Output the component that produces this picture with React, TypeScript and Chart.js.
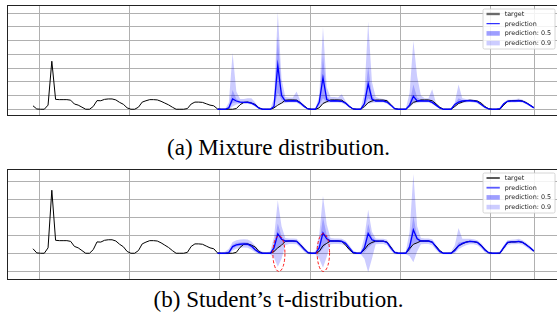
import React, { useEffect, useRef } from "react";
import { Chart, registerables } from "chart.js";

Chart.register(...registerables);

// ---------- data ----------
const PRED_START = 49; // index where the forecast begins
const X_GRID = [1.6, 25.6, 49.6, 73.6, 97.6, 121.6, 133.2];
const Y_GRID_A = [0, 1, 2, 3, 4, 5, 6, 7];
const Y_GRID_B = [-1, 0, 1, 2, 3, 4];

const TARGET = [
  0.25, 0.02, 0, 0, 0.3, 3.5, 0.72, 0.7, 0.7, 0.7, 0.66, 0.38, 0.3, 0.15, 0, 0, 0.2, 0.63, 0.62, 0.72,
  0.75, 0.75, 0.68, 0.5, 0.36, 0.1, 0, 0, 0.15, 0.52, 0.62, 0.7, 0.7, 0.68, 0.58, 0.45, 0.32, 0.15, 0, 0,
  0, 0.05, 0.38, 0.52, 0.52, 0.5, 0.4, 0.3, 0.25, 0.02, 0, 0, 0, 0, 0.05, 0.33, 0.5, 0.52, 0.45, 0.35,
  0.1, 0, 0, 0, 0.1, 0.3, 0.45, 0.66, 0.68, 0.68, 0.66, 0.48, 0.25, 0.03, 0, 0, 0.1, 0.42, 0.55, 0.68,
  0.68, 0.68, 0.66, 0.45, 0.2, 0.02, 0, 0, 0.2, 0.48, 0.6, 0.67, 0.67, 0.67, 0.62, 0.35, 0.05, 0, 0, 0,
  0.25, 0.5, 0.58, 0.68, 0.68, 0.68, 0.62, 0.4, 0.15, 0, 0, 0, 0.2, 0.42, 0.52, 0.62, 0.66, 0.64, 0.6, 0.45,
  0.2, 0.03, 0, 0, 0, 0.3, 0.58, 0.63, 0.63, 0.65, 0.6, 0.48, 0.3, 0.12,
];

// (a) mixture distribution forecast, indices 49..133
const MIX_MEDIAN = [
  0, 0, 0, 0.1, 0.75, 0.6, 0.52, 0.5, 0.5, 0.45, 0.3, 0.08, 0, 0, 0, 0.2, 3.2, 1.0, 0.6, 0.6,
  0.62, 0.6, 0.45, 0.2, 0.02, 0, 0, 0.5, 2.3, 0.7, 0.6, 0.62, 0.6, 0.58, 0.45, 0.2, 0.02, 0, 0, 0.4,
  1.85, 0.75, 0.6, 0.6, 0.6, 0.52, 0.3, 0.05, 0, 0, 0, 0.3, 0.95, 0.6, 0.62, 0.6, 0.6, 0.5, 0.3, 0.1,
  0, 0, 0, 0.35, 0.52, 0.6, 0.62, 0.62, 0.6, 0.55, 0.35, 0.15, 0.02, 0, 0, 0.05, 0.4, 0.58, 0.6, 0.6,
  0.62, 0.58, 0.45, 0.28, 0.1,
];
const MIX_HI90 = [
  0, 0, 0.02, 0.5, 4.1, 1.3, 0.75, 0.75, 0.8, 0.8, 0.5, 0.15, 0.02, 0, 0.02, 0.8, 7.1, 2.2, 0.9, 0.85,
  0.85, 1.3, 0.6, 0.3, 0.05, 0.02, 0.05, 1.0, 6.0, 1.6, 0.9, 0.9, 0.85, 1.1, 0.6, 0.3, 0.05, 0.02, 0.05, 1.2,
  6.4, 2.0, 0.9, 0.8, 0.75, 0.7, 0.4, 0.1, 0.02, 0.02, 0.05, 1.2, 5.0, 2.4, 1.0, 0.8, 0.8, 1.45, 0.45, 0.15,
  0.02, 0.02, 0.05, 0.5, 1.8, 0.8, 0.75, 0.75, 0.7, 0.65, 0.45, 0.2, 0.05, 0.02, 0.02, 0.1, 0.5, 0.7, 0.7, 0.72,
  0.78, 0.7, 0.55, 0.35, 0.15,
];
const MIX_LO90 = [
  0, 0, 0, 0, 0.2, 0.35, 0.4, 0.4, 0.4, 0.35, 0.2, 0.02, 0, 0, 0, 0.05, 0.4, 0.4, 0.45, 0.5,
  0.5, 0.48, 0.3, 0.1, 0, 0, 0, 0.1, 0.4, 0.45, 0.5, 0.5, 0.5, 0.45, 0.3, 0.1, 0, 0, 0, 0.1,
  0.4, 0.45, 0.5, 0.5, 0.5, 0.4, 0.2, 0, 0, 0, 0, 0.1, 0.4, 0.45, 0.5, 0.5, 0.5, 0.38, 0.2, 0.02,
  0, 0, 0, 0.15, 0.35, 0.45, 0.5, 0.52, 0.5, 0.42, 0.25, 0.05, 0, 0, 0, 0, 0.3, 0.48, 0.5, 0.5,
  0.52, 0.48, 0.35, 0.2, 0.05,
];
const MIX_HI50 = [
  0, 0, 0, 0.2, 1.4, 0.75, 0.6, 0.58, 0.6, 0.55, 0.38, 0.1, 0, 0, 0, 0.35, 5.3, 1.4, 0.68, 0.68,
  0.7, 0.72, 0.52, 0.25, 0.03, 0, 0, 0.65, 4.0, 0.95, 0.68, 0.7, 0.68, 0.68, 0.52, 0.25, 0.03, 0, 0, 0.6,
  3.1, 1.0, 0.68, 0.66, 0.66, 0.58, 0.34, 0.06, 0, 0, 0, 0.45, 1.8, 0.85, 0.7, 0.66, 0.66, 0.62, 0.35, 0.12,
  0, 0, 0, 0.4, 0.8, 0.66, 0.68, 0.68, 0.66, 0.6, 0.4, 0.18, 0.02, 0, 0, 0.06, 0.45, 0.63, 0.65, 0.65,
  0.68, 0.63, 0.5, 0.32, 0.12,
];
const MIX_LO50 = [
  0, 0, 0, 0.02, 0.45, 0.5, 0.46, 0.44, 0.44, 0.4, 0.24, 0.05, 0, 0, 0, 0.12, 1.2, 0.7, 0.54, 0.55,
  0.56, 0.54, 0.38, 0.15, 0.01, 0, 0, 0.3, 0.8, 0.55, 0.54, 0.56, 0.55, 0.52, 0.38, 0.15, 0.01, 0, 0, 0.25,
  0.8, 0.6, 0.54, 0.55, 0.54, 0.46, 0.25, 0.03, 0, 0, 0, 0.2, 0.55, 0.52, 0.56, 0.55, 0.55, 0.44, 0.25, 0.07,
  0, 0, 0, 0.28, 0.45, 0.54, 0.56, 0.57, 0.55, 0.5, 0.3, 0.11, 0.01, 0, 0, 0.03, 0.35, 0.53, 0.55, 0.55,
  0.57, 0.53, 0.4, 0.24, 0.08,
];

// (b) Student's t forecast, indices 49..133
const T_MEDIAN = [
  0, 0, 0, 0.03, 0.37, 0.47, 0.5, 0.52, 0.5, 0.4, 0.2, 0.05, 0, 0, 0, 0.3, 1.08, 0.78, 0.68, 0.68,
  0.68, 0.66, 0.45, 0.22, 0.03, 0, 0, 0.3, 1.13, 0.8, 0.68, 0.68, 0.68, 0.66, 0.55, 0.3, 0.05, 0, 0, 0.3,
  1.1, 0.75, 0.67, 0.67, 0.67, 0.6, 0.3, 0.05, 0, 0, 0, 0.35, 1.3, 0.8, 0.68, 0.68, 0.68, 0.62, 0.35, 0.1,
  0, 0, 0, 0.15, 0.42, 0.55, 0.62, 0.66, 0.65, 0.6, 0.42, 0.18, 0.03, 0, 0, 0.02, 0.32, 0.6, 0.63, 0.63,
  0.66, 0.6, 0.46, 0.3, 0.12,
];
const T_HI90 = [
  0.05, 0.05, 0.08, 0.25, 0.62, 0.72, 0.76, 0.78, 0.76, 0.65, 0.42, 0.2, 0.08, 0.05, 0.1, 0.9, 2.95, 1.5, 0.85, 0.82,
  0.82, 0.8, 0.6, 0.35, 0.12, 0.05, 0.1, 1.0, 3.2, 1.6, 0.85, 0.82, 0.82, 0.8, 0.7, 0.45, 0.15, 0.05, 0.1, 0.9,
  2.42, 1.2, 0.82, 0.8, 0.8, 0.75, 0.45, 0.15, 0.05, 0.05, 0.1, 1.2, 4.4, 1.5, 0.85, 0.82, 0.82, 0.78, 0.5, 0.2,
  0.05, 0.05, 0.08, 0.45, 1.4, 0.8, 0.8, 0.8, 0.78, 0.72, 0.55, 0.3, 0.1, 0.05, 0.05, 0.1, 0.45, 0.72, 0.75, 0.76,
  0.8, 0.72, 0.58, 0.4, 0.2,
];
const T_LO90 = [
  -0.05, -0.05, -0.05, -0.05, 0.15, 0.25, 0.3, 0.32, 0.3, 0.2, 0.05, -0.05, -0.05, -0.05, -0.05, -0.25, -0.75, -0.3, 0.45, 0.52,
  0.52, 0.5, 0.3, 0.08, -0.05, -0.05, -0.05, -0.3, -0.8, -0.2, 0.5, 0.52, 0.52, 0.5, 0.4, 0.15, -0.05, -0.05, -0.05, -0.3,
  -1.05, -0.3, 0.5, 0.52, 0.52, 0.45, 0.15, -0.05, -0.05, -0.05, -0.05, -0.15, -0.5, 0.1, 0.5, 0.52, 0.52, 0.45, 0.2, -0.02,
  -0.05, -0.05, -0.05, 0.0, 0.22, 0.35, 0.45, 0.5, 0.5, 0.45, 0.28, 0.05, -0.05, -0.05, -0.05, -0.05, 0.18, 0.45, 0.5, 0.5,
  0.52, 0.47, 0.33, 0.18, 0.04,
];
const T_HI50 = [
  0.01, 0.01, 0.02, 0.12, 0.47, 0.58, 0.6, 0.62, 0.6, 0.5, 0.3, 0.1, 0.02, 0.01, 0.03, 0.5, 1.65, 0.95, 0.74, 0.74,
  0.74, 0.72, 0.52, 0.28, 0.06, 0.01, 0.03, 0.5, 2.0, 1.0, 0.74, 0.74, 0.74, 0.72, 0.62, 0.36, 0.08, 0.01, 0.03, 0.5,
  1.62, 0.9, 0.73, 0.72, 0.72, 0.66, 0.36, 0.08, 0.01, 0.01, 0.03, 0.55, 2.05, 0.95, 0.74, 0.74, 0.74, 0.68, 0.41, 0.14,
  0.01, 0.01, 0.03, 0.25, 0.6, 0.62, 0.68, 0.71, 0.7, 0.65, 0.48, 0.23, 0.05, 0.01, 0.01, 0.05, 0.38, 0.65, 0.68, 0.68,
  0.71, 0.65, 0.51, 0.35, 0.16,
];
const T_LO50 = [
  -0.01, -0.01, -0.01, -0.01, 0.25, 0.37, 0.41, 0.43, 0.41, 0.31, 0.12, 0.0, -0.01, -0.01, -0.01, 0.05, 0.3, 0.5, 0.62, 0.62,
  0.62, 0.6, 0.39, 0.16, 0.0, -0.01, -0.01, 0.05, 0.25, 0.55, 0.62, 0.62, 0.62, 0.6, 0.49, 0.24, 0.01, -0.01, -0.01, 0.05,
  0.3, 0.5, 0.61, 0.62, 0.62, 0.54, 0.24, 0.01, -0.01, -0.01, -0.01, 0.1, 0.55, 0.6, 0.62, 0.62, 0.62, 0.56, 0.29, 0.06,
  -0.01, -0.01, -0.01, 0.08, 0.32, 0.48, 0.56, 0.61, 0.6, 0.55, 0.36, 0.13, 0.01, -0.01, -0.01, -0.01, 0.26, 0.55, 0.58, 0.58,
  0.61, 0.55, 0.41, 0.25, 0.08,
];

// red dashed highlight ellipses on panel (b): centre index, centre value, radii
const ELLIPSES_B = [
  { x: 65.3, y: -0.02, rx: 1.6, ry: 0.99 },
  { x: 77.1, y: 0.04, rx: 1.65, ry: 1.05 },
];

const LEGEND_LABELS = ["target", "prediction", "prediction: 0.5", "prediction: 0.9"];
const CAPTION_A = "(a) Mixture distribution.";
const CAPTION_B = "(b) Student\u2019s t-distribution.";

// ---------- helpers ----------
const toPoints = (arr: number[], start: number) => arr.map((y, k) => ({ x: start + k, y }));

type PanelProps = {
  median: number[];
  lo50: number[];
  hi50: number[];
  lo90: number[];
  hi90: number[];
  yMin: number;
  yMax: number;
  yGrid: number[];
  ellipses: { x: number; y: number; rx: number; ry: number }[];
  legendTarget: { color: string; width: number };
  legendPred: { color: string; width: number };
  top: number;
};

const BAND50 = "rgba(0,0,255,0.22)";
const BAND90 = "rgba(0,0,255,0.2)";

function Panel(p: PanelProps) {
  const ref = useRef<HTMLCanvasElement | null>(null);
  useEffect(() => {
    if (!ref.current) return;
    const overlay = {
      id: "overlay",
      afterDatasetsDraw(chart: any) {
        const ctx = chart.ctx;
        const xs = chart.scales.x;
        const ys = chart.scales.y;
        ctx.save();
        ctx.strokeStyle = "rgba(255,0,0,0.9)";
        ctx.lineWidth = 1;
        ctx.setLineDash([3, 2]);
        for (const e of p.ellipses) {
          const cx = xs.getPixelForValue(e.x);
          const cy = ys.getPixelForValue(e.y);
          const rx = Math.abs(xs.getPixelForValue(e.x + e.rx) - cx);
          const ry = Math.abs(ys.getPixelForValue(e.y + e.ry) - cy);
          ctx.beginPath();
          ctx.ellipse(cx, cy, rx, ry, 0, 0, Math.PI * 2);
          ctx.stroke();
        }
        ctx.restore();
      },
      afterDraw(chart: any) {
        const ctx = chart.ctx;
        const ca = chart.chartArea;
        ctx.save();
        // frame
        ctx.strokeStyle = "#222";
        ctx.lineWidth = 1;
        ctx.strokeRect(Math.round(ca.left) + 0.5, Math.round(ca.top) + 0.5, ca.right - ca.left, ca.bottom - ca.top);
        // legend
        const w = 72;
        const h = 40;
        const bx = ca.right - 4 - w;
        const by = ca.top + 4;
        ctx.beginPath();
        const r = 1.5;
        ctx.moveTo(bx + r, by);
        ctx.lineTo(bx + w - r, by);
        ctx.quadraticCurveTo(bx + w, by, bx + w, by + r);
        ctx.lineTo(bx + w, by + h - r);
        ctx.quadraticCurveTo(bx + w, by + h, bx + w - r, by + h);
        ctx.lineTo(bx + r, by + h);
        ctx.quadraticCurveTo(bx, by + h, bx, by + h - r);
        ctx.lineTo(bx, by + r);
        ctx.quadraticCurveTo(bx, by, bx + r, by);
        ctx.closePath();
        ctx.fillStyle = "rgba(255,255,255,0.85)";
        ctx.fill();
        ctx.strokeStyle = "#cccccc";
        ctx.lineWidth = 0.8;
        ctx.stroke();
        ctx.font = "6.4px 'DejaVu Sans'";
        ctx.textBaseline = "middle";
        ctx.fillStyle = "#222";
        LEGEND_LABELS.forEach((label, k) => {
          const cy = by + 5 + k * 9.7;
          const sx0 = bx + 3.5;
          const sx1 = bx + 16.8;
          if (k === 0 || k === 1) {
            const st = k === 0 ? p.legendTarget : p.legendPred;
            ctx.strokeStyle = st.color;
            ctx.lineWidth = st.width;
            ctx.beginPath();
            ctx.moveTo(sx0, cy);
            ctx.lineTo(sx1, cy);
            ctx.stroke();
          } else {
            ctx.fillStyle = k === 2 ? "rgba(0,0,255,0.38)" : "rgba(0,0,255,0.2)";
            ctx.fillRect(sx0, cy - 2.3, sx1 - sx0, 4.6);
          }
          ctx.fillStyle = "#222";
          ctx.fillText(label, bx + 21.7, cy + 0.3);
        });
        ctx.restore();
      },
    };
    const chart = new Chart(ref.current, {
      type: "line",
      data: {
        datasets: [
          {
            label: "prediction",
            data: toPoints(p.median, PRED_START),
            borderColor: "#0000ff",
            borderWidth: 1.3,
            pointRadius: 0,
            fill: false,
            tension: 0,
            order: 0,
          },
          {
            label: "target",
            data: toPoints(TARGET, 0),
            borderColor: "#000000",
            borderWidth: 1,
            pointRadius: 0,
            fill: false,
            tension: 0,
            order: 1,
          },
          {
            label: "prediction: 0.5",
            data: toPoints(p.hi50, PRED_START),
            borderWidth: 0,
            borderColor: "rgba(0,0,0,0)",
            backgroundColor: BAND50,
            pointRadius: 0,
            fill: "+1",
            tension: 0,
            order: 2,
          },
          {
            label: "lo50",
            data: toPoints(p.lo50, PRED_START),
            borderWidth: 0,
            borderColor: "rgba(0,0,0,0)",
            pointRadius: 0,
            fill: false,
            tension: 0,
            order: 3,
          },
          {
            label: "prediction: 0.9",
            data: toPoints(p.hi90, PRED_START),
            borderWidth: 0,
            borderColor: "rgba(0,0,0,0)",
            backgroundColor: BAND90,
            pointRadius: 0,
            fill: "+1",
            tension: 0,
            order: 4,
          },
          {
            label: "lo90",
            data: toPoints(p.lo90, PRED_START),
            borderWidth: 0,
            borderColor: "rgba(0,0,0,0)",
            pointRadius: 0,
            fill: false,
            tension: 0,
            order: 5,
          },
        ],
      },
      options: {
        animation: false,
        responsive: false,
        devicePixelRatio: 1,
        layout: { padding: { left: 7, top: 5, right: 1, bottom: 5 } },
        plugins: {
          legend: { display: false },
          tooltip: { enabled: false },
          filler: { propagate: false, drawTime: "beforeDatasetsDraw" },
        } as any,
        scales: {
          x: {
            type: "linear",
            min: -6.9,
            max: 139.67,
            afterBuildTicks: (s: any) => {
              s.ticks = X_GRID.map((v) => ({ value: v }));
            },
            ticks: { display: false },
            grid: { color: "#b0b0b0", lineWidth: 1, drawTicks: false },
            border: { display: false },
          },
          y: {
            type: "linear",
            min: p.yMin,
            max: p.yMax,
            afterBuildTicks: (s: any) => {
              s.ticks = p.yGrid.map((v) => ({ value: v }));
            },
            ticks: { display: false },
            grid: { color: "#b0b0b0", lineWidth: 1, drawTicks: false },
            border: { display: false },
          },
        },
      },
      plugins: [overlay],
    } as any);
    return () => chart.destroy();
  }, []);
  return (
    <canvas
      ref={ref}
      width={560}
      height={120}
      style={{ position: "absolute", left: 0, top: p.top, width: 560, height: 120 }}
    />
  );
}

const captionStyle = (top: number): React.CSSProperties => ({
  position: "absolute",
  left: 0,
  width: 557,
  top,
  height: 28,
  lineHeight: "28px",
  textAlign: "center",
  fontFamily: "'Liberation Serif', 'Times New Roman', serif",
  fontSize: 23,
  color: "#000",
  whiteSpace: "nowrap",
});

export default function App() {
  return (
    <div
      style={{
        position: "fixed",
        left: 0,
        top: 0,
        width: 557,
        height: 324,
        overflow: "hidden",
        background: "#fff",
      }}
    >
      <Panel
        median={MIX_MEDIAN}
        lo50={MIX_LO50}
        hi50={MIX_HI50}
        lo90={MIX_LO90}
        hi90={MIX_HI90}
        yMin={-0.42}
        yMax={7.6}
        yGrid={Y_GRID_A}
        ellipses={[]}
        legendTarget={{ color: "#6a6a6a", width: 2.4 }}
        legendPred={{ color: "#0000ff", width: 1 }}
        top={0}
      />
      <div style={captionStyle(134)}>{CAPTION_A}</div>
      <Panel
        median={T_MEDIAN}
        lo50={T_LO50}
        hi50={T_HI50}
        lo90={T_LO90}
        hi90={T_HI90}
        yMin={-1.43}
        yMax={4.68}
        yGrid={Y_GRID_B}
        ellipses={ELLIPSES_B}
        legendTarget={{ color: "#000000", width: 1.3 }}
        legendPred={{ color: "#5a5aff", width: 1.8 }}
        top={164}
      />
      <div style={captionStyle(286)}>{CAPTION_B}</div>
    </div>
  );
}
